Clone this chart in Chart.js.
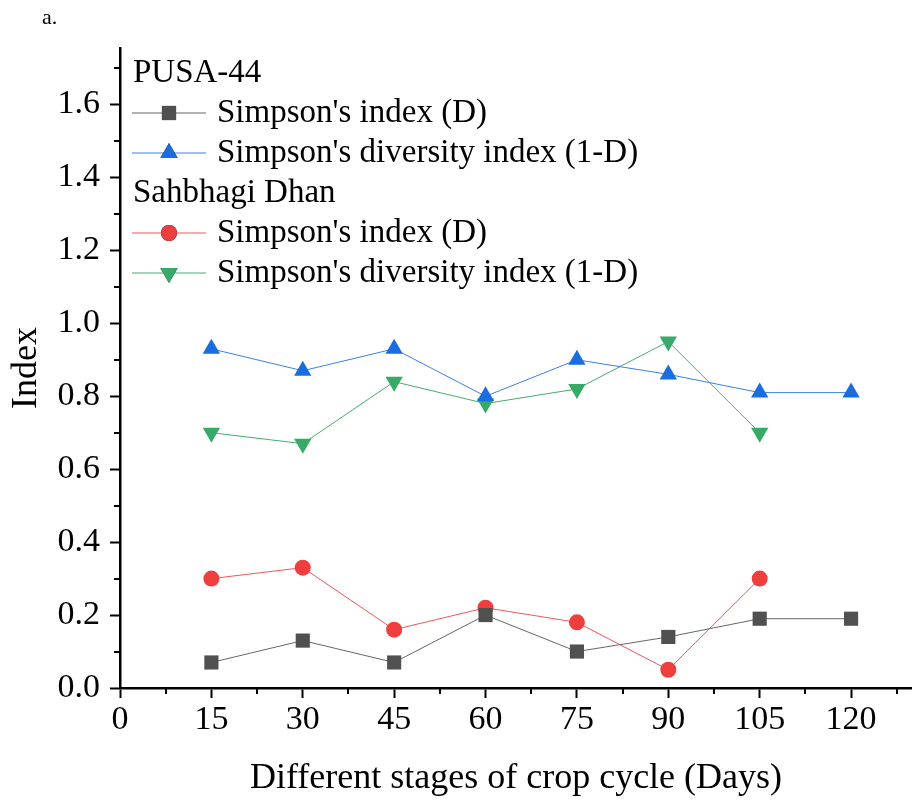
<!DOCTYPE html>
<html>
<head>
<meta charset="utf-8">
<script src="https://cdn.jsdelivr.net/npm/chart.js@4"></script>
<style>
  html, body { margin: 0; padding: 0; background: #fff; }
  #wrap { width: 912px; height: 806px; }
</style>
</head>
<body>
<div id="wrap"><canvas id="chart" width="912" height="806"></canvas></div>
<script>
const days = [15, 30, 45, 60, 75, 90, 105, 120];
const pusaD = [0.07, 0.13, 0.07, 0.20, 0.10, 0.14, 0.19, 0.19];
const pusa1mD = [0.93, 0.87, 0.93, 0.80, 0.90, 0.86, 0.81, 0.81];
const sahD = [0.30, 0.33, 0.16, 0.22, 0.18, 0.05, 0.30];
const sah1mD = [0.70, 0.67, 0.84, 0.78, 0.82, 0.95, 0.70];
const xTicks = [0, 15, 30, 45, 60, 75, 90, 105, 120];
const yTicks = [0, 0.2, 0.4, 0.6, 0.8, 1.0, 1.2, 1.4, 1.6];

const serif = '"Liberation Serif", "DejaVu Serif", serif';

function pts(vals) {
  return vals.map((v, i) => ({ x: days[i], y: v }));
}

const series = [
  { group: 'PUSA-44', label: "Simpson's index (D)", data: pusaD, line: '#666666', fill: '#505050', style: 'rect', r: 10, rot: 0 },
  { group: null, label: "Simpson's diversity index (1-D)", data: pusa1mD, line: '#3a7fe6', fill: '#1a6ddf', style: 'triangle', r: 10, rot: 0 },
  { group: 'Sahbhagi Dhan', label: "Simpson's index (D)", data: sahD, line: '#f25555', fill: '#ee3e3e', style: 'circle', r: 8, rot: 0 },
  { group: null, label: "Simpson's diversity index (1-D)", data: sah1mD, line: '#45ad6f', fill: '#36aa66', style: 'triangle', r: 10, rot: 180 }
];

// legend with group headers, drawn in the top-left corner of the plot
const groupLegend = {
  id: 'groupLegend',
  afterDraw(chart) {
    const ctx = chart.ctx;
    const a = chart.chartArea;
    ctx.save();
    ctx.font = '33px ' + serif;
    ctx.textBaseline = 'middle';
    ctx.fillStyle = '#000';
    let y = a.top + 25;
    series.forEach((s) => {
      if (s.group) {
        ctx.fillText(s.group, a.left + 13, y);
        y += 40;
      }
      ctx.strokeStyle = s.line;
      ctx.lineWidth = 1;
      ctx.beginPath();
      ctx.moveTo(a.left + 12, y);
      ctx.lineTo(a.left + 86, y);
      ctx.stroke();
      Chart.helpers.drawPoint(ctx, {
        pointStyle: s.style, radius: s.r, rotation: s.rot, borderWidth: 0
      }, a.left + 49, y);
      ctx.fillStyle = s.fill;
      ctx.fill();
      ctx.fillStyle = '#000';
      ctx.fillText(s.label, a.left + 97, y);
      y += 40;
    });
    ctx.font = '22px ' + serif;
    ctx.fillText('a.', 42, 18);
    ctx.restore();
  }
};

// short minor ticks between the labelled ones
const minorTicks = {
  id: 'minorTicks',
  afterDraw(chart) {
    const ctx = chart.ctx;
    const xs = chart.scales.x, ys = chart.scales.y;
    ctx.save();
    ctx.strokeStyle = '#000';
    ctx.lineWidth = 2;
    ctx.beginPath();
    for (let v = 7.5; v <= xs.max; v += 15) {
      const px = Math.round(xs.getPixelForValue(v));
      ctx.moveTo(px, xs.top);
      ctx.lineTo(px, xs.top + 6);
    }
    for (let v = 0.1; v <= ys.max; v += 0.2) {
      const py = Math.round(ys.getPixelForValue(v));
      ctx.moveTo(ys.right, py);
      ctx.lineTo(ys.right - 6, py);
    }
    ctx.stroke();
    ctx.restore();
  }
};

new Chart(document.getElementById('chart'), {
  type: 'line',
  data: {
    datasets: series.map(s => ({
      label: s.label,
      data: pts(s.data),
      borderColor: s.line,
      borderWidth: 1,
      backgroundColor: s.fill,
      pointBackgroundColor: s.fill,
      pointBorderWidth: 0,
      pointStyle: s.style,
      pointRotation: s.rot,
      pointRadius: s.r,
      pointHoverRadius: s.r,
      tension: 0
    }))
  },
  options: {
    responsive: false,
    animation: false,
    layout: { autoPadding: false, padding: { top: 48, left: 0, right: 0, bottom: 0 } },
    plugins: { legend: { display: false }, tooltip: { enabled: false } },
    scales: {
      x: {
        type: 'linear',
        min: 0,
        max: 130,
        afterBuildTicks: s => { s.ticks = xTicks.map(v => ({ value: v })); },
        afterFit: s => { s.height = 118; s.paddingLeft = 0; s.paddingRight = 0; },
        grid: { drawOnChartArea: false, tickLength: 10, tickWidth: 2, tickColor: '#000' },
        border: { display: true, color: '#000', width: 2.5 },
        ticks: { color: '#000', padding: 2, maxRotation: 0, font: { family: serif, size: 34 } },
        title: { display: true, text: 'Different stages of crop cycle (Days)', color: '#000', padding: { top: 0, bottom: 6 }, font: { family: serif, size: 36 } }
      },
      y: {
        min: 0,
        max: 1.755,
        afterBuildTicks: s => { s.ticks = yTicks.map(v => ({ value: v })); },
        afterFit: s => { s.width = 120; s.paddingTop = 0; s.paddingBottom = 0; },
        grid: { drawOnChartArea: false, tickLength: 10, tickWidth: 2, tickColor: '#000' },
        border: { display: true, color: '#000', width: 2.5 },
        ticks: { color: '#000', padding: 10, callback: v => v.toFixed(1), font: { family: serif, size: 34 } },
        title: { display: true, text: 'Index', color: '#000', padding: { top: 5, bottom: 0 }, font: { family: serif, size: 36 } }
      }
    }
  },
  plugins: [groupLegend, minorTicks]
});
</script>
</body>
</html>
